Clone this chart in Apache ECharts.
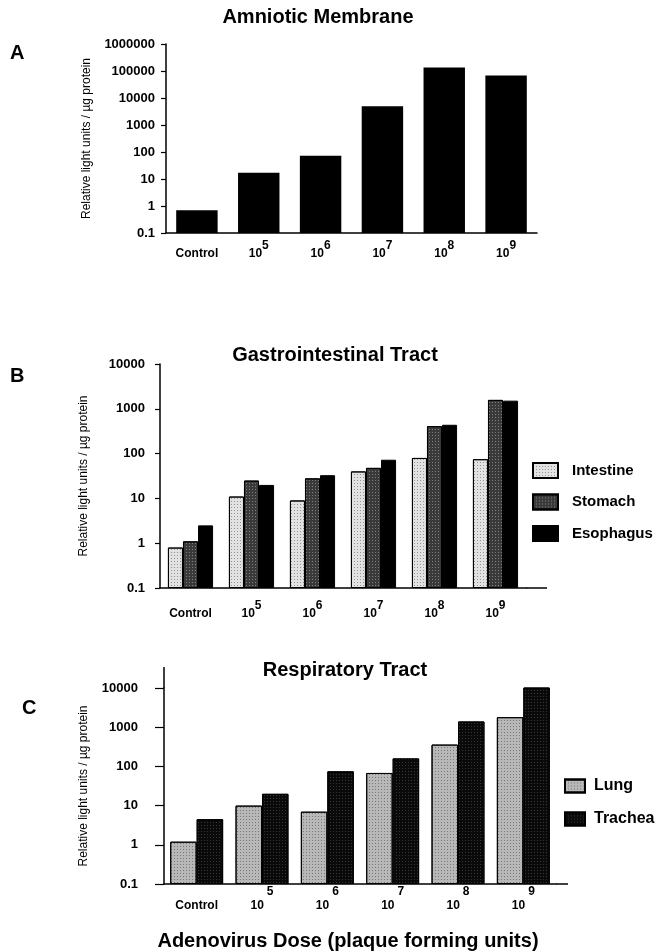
<!DOCTYPE html>
<html>
<head>
<meta charset="utf-8">
<script src="https://cdn.jsdelivr.net/npm/echarts@6/dist/echarts.min.js"></script>
<style>
html,body{margin:0;padding:0;background:#fff;}
#chart{width:657px;height:952px;}
</style>
</head>
<body>
<div id="chart"></div>
<script>
// ---- data ----
var categories = ['Control', '10^5', '10^6', '10^7', '10^8', '10^9'];
var amnioticValues = [0.7, 17, 72, 5000, 135000, 68000];
var intestineValues = [0.8, 11, 9, 40, 80, 75];
var stomachValues = [1.1, 25, 28, 48, 410, 1580];
var esophagusValues = [2.5, 20, 33, 73, 440, 1520];
var lungValues = [1.2, 10, 7, 68, 360, 1800];
var tracheaValues = [4.5, 20, 75, 160, 1400, 10500];
var yTicksA = ['0.1', '1', '10', '100', '1000', '10000', '100000', '1000000'];
var yTicksB = ['0.1', '1', '10', '100', '1000', '10000'];
var yTicksC = ['0.1', '1', '10', '100', '1000', '10000'];
var titles = ['Amniotic Membrane', 'Gastrointestinal Tract', 'Respiratory Tract'];
var yName = 'Relative light units / \u00b5g protein';
var xName = 'Adenovirus Dose (plaque forming units)';

// ---- helpers ----
var FONT = '"Liberation Sans", Arial, Helvetica, sans-serif';
function tickFmt(list) {
  return function (v) {
    var i = Math.round(Math.log10(v)) + 1;
    return list[i] !== undefined ? list[i] : '';
  };
}
function doseFmt(v) {
  if (v.indexOf('^') < 0) return '{c|' + v + '}';
  var p = v.split('^');
  return '{b|' + p[0] + '}{s|' + p[1] + '}';
}
function richFor(raise, gap) {
  return {
    c: {fontSize: 12, fontWeight: 'bold', color: '#000', fontFamily: FONT, verticalAlign: 'bottom', lineHeight: 14 + raise},
    b: {fontSize: 12, fontWeight: 'bold', color: '#000', fontFamily: FONT, verticalAlign: 'bottom', lineHeight: 14},
    s: {fontSize: 12, fontWeight: 'bold', color: '#000', fontFamily: FONT, verticalAlign: 'top', lineHeight: 14 + raise, padding: [0, 0, 0, gap]}
  };
}
function xAxisFor(gridIndex, raise, gap, margin) {
  return {
    type: 'category', gridIndex: gridIndex, data: categories,
    axisLine: {lineStyle: {color: '#000', width: 1.5}},
    axisTick: {show: false},
    axisLabel: {formatter: doseFmt, rich: richFor(raise, gap), margin: margin, interval: 0}
  };
}
function yAxisFor(gridIndex, min, max, ticks, margin, tickLen, nameGap, split) {
  return {
    type: 'log', logBase: 10, gridIndex: gridIndex, min: min, max: max, startValue: min, splitNumber: split,
    name: yName, nameLocation: 'middle', nameRotate: 90, nameGap: nameGap,
    nameTextStyle: {fontSize: 12, color: '#000', fontFamily: FONT},
    axisLine: {show: true, lineStyle: {color: '#000', width: 1.5}},
    axisTick: {show: true, length: tickLen, lineStyle: {color: '#000', width: 1.2}},
    minorTick: {show: false},
    splitLine: {show: false},
    axisLabel: {formatter: tickFmt(ticks), fontSize: 13, fontWeight: 'bold', color: '#000', fontFamily: FONT, margin: margin}
  };
}
function stipple(color) {
  return {symbol: 'rect', symbolSize: 1, dashArrayX: [1, 2], dashArrayY: [1, 2], color: color, rotation: 0};
}
var titleStyle = {fontSize: 20, fontWeight: 'bold', color: '#000', fontFamily: FONT};

var chart = echarts.init(document.getElementById('chart'), null, {renderer: 'canvas'});
var option = {
  backgroundColor: '#fff',
  animation: false,
  textStyle: {fontFamily: FONT},
  title: [
    {text: titles[0], left: 318, top: 7, padding: 0, textAlign: 'center', textStyle: titleStyle},
    {text: titles[1], left: 335, top: 345, padding: 0, textAlign: 'center', textStyle: titleStyle},
    {text: titles[2], left: 345, top: 660, padding: 0, textAlign: 'center', textStyle: titleStyle},
    {text: 'A', left: 10, top: 43, padding: 0, textStyle: {fontSize: 20, fontWeight: 'bold', color: '#000', fontFamily: FONT}},
    {text: 'B', left: 10, top: 366, padding: 0, textStyle: {fontSize: 20, fontWeight: 'bold', color: '#000', fontFamily: FONT}},
    {text: 'C', left: 22, top: 698, padding: 0, textStyle: {fontSize: 20, fontWeight: 'bold', color: '#000', fontFamily: FONT}},
    {text: xName, left: 348, top: 931, padding: 0, textAlign: 'center', textStyle: {fontSize: 20, fontWeight: 'bold', color: '#000', fontFamily: FONT}}
  ],
  legend: [
    {data: ['Intestine', 'Stomach', 'Esophagus'], orient: 'vertical', left: 532, top: 462, padding: 0, itemWidth: 25, itemHeight: 15, itemGap: 14.5, icon: 'rect',
     textStyle: {fontSize: 15, fontWeight: 'bold', color: '#000', fontFamily: FONT, lineHeight: 15, padding: [0, 0, 0, 9]}},
    {data: ['Lung', 'Trachea'], orient: 'vertical', left: 564, top: 778, padding: 0, itemWidth: 20, itemHeight: 13, itemGap: 17, icon: 'rect',
     textStyle: {fontSize: 16, fontWeight: 'bold', color: '#000', fontFamily: FONT, lineHeight: 13, padding: [0, 0, 0, 4]}}
  ],
  grid: [
    {left: 166, top: 44, width: 371, height: 189},
    {left: 160, top: 364, width: 366, height: 224},
    {left: 164, top: 688, width: 392, height: 196}
  ],
  xAxis: [
    xAxisFor(0, 6, 0, 7),
    xAxisFor(1, 6, 0, 12),
    xAxisFor(2, 12, 3, 2)
  ],
  yAxis: [
    yAxisFor(0, 0.1, 1000000, yTicksA, 11, 5, 73, 7),
    yAxisFor(1, 0.1, 10000, yTicksB, 15, 5, 70, 5),
    yAxisFor(2, 0.1, 10000, yTicksC, 26, 9, 74, 5)
  ],
  series: [
    {name: 'Amniotic', type: 'bar', xAxisIndex: 0, yAxisIndex: 0, data: amnioticValues, barCategoryGap: '33%',
     itemStyle: {color: '#000'}},
    {name: 'Intestine', type: 'bar', xAxisIndex: 1, yAxisIndex: 1, data: intestineValues, barGap: '0%', barCategoryGap: '26%',
     itemStyle: {color: '#e2e2e2', borderColor: '#000', borderWidth: 1, decal: stipple('rgba(0,0,0,0.35)')}},
    {name: 'Stomach', type: 'bar', xAxisIndex: 1, yAxisIndex: 1, data: stomachValues, barGap: '0%', barCategoryGap: '26%',
     itemStyle: {color: '#3a3a3a', borderColor: '#000', borderWidth: 1, decal: stipple('rgba(255,255,255,0.35)')}},
    {name: 'Esophagus', type: 'bar', xAxisIndex: 1, yAxisIndex: 1, data: esophagusValues, barGap: '0%', barCategoryGap: '26%',
     itemStyle: {color: '#000', borderColor: '#000', borderWidth: 1}},
    {name: 'Lung', type: 'bar', xAxisIndex: 2, yAxisIndex: 2, data: lungValues, barGap: '0%', barCategoryGap: '19%',
     itemStyle: {color: '#b8b8b8', borderColor: '#000', borderWidth: 1, decal: stipple('rgba(0,0,0,0.35)')}},
    {name: 'Trachea', type: 'bar', xAxisIndex: 2, yAxisIndex: 2, data: tracheaValues, barGap: '0%', barCategoryGap: '19%',
     itemStyle: {color: '#0a0a0a', borderColor: '#000', borderWidth: 1, decal: stipple('rgba(255,255,255,0.18)')}}
  ],
  graphic: [
    {type: 'line', shape: {x1: 526, y1: 588, x2: 547, y2: 588}, style: {stroke: '#000', lineWidth: 1.5}},
    {type: 'line', shape: {x1: 556, y1: 884, x2: 568, y2: 884}, style: {stroke: '#000', lineWidth: 1.5}},
    {type: 'line', shape: {x1: 164, y1: 667, x2: 164, y2: 688}, style: {stroke: '#000', lineWidth: 1.5}}
  ]
};
chart.setOption(option);
</script>
</body>
</html>
